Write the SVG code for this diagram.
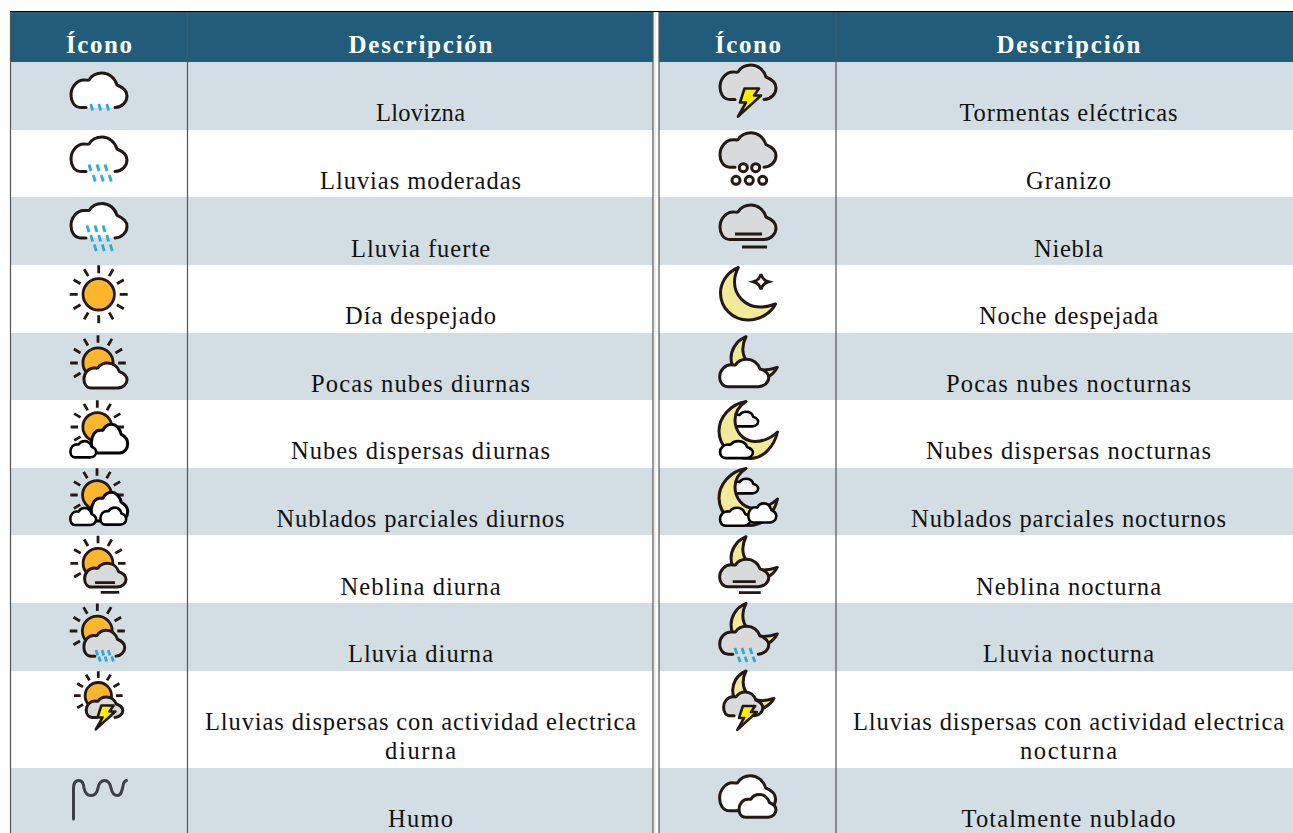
<svg xmlns="http://www.w3.org/2000/svg" xmlns:xlink="http://www.w3.org/1999/xlink" width="1293" height="833" viewBox="0 0 1293 833">
<style>
text{font-family:"Liberation Serif","Times New Roman",serif;font-size:24.5px;fill:#111;text-anchor:middle}
.h{font-weight:bold;fill:#fff;font-size:25px}
.band{fill:#d2dde4}
.hd{fill:#215d7b}
.rule{stroke:#555;stroke-width:1.2;fill:none}
.ns{vector-effect:non-scaling-stroke}
.cl{stroke:#231815;stroke-width:3;stroke-linecap:round;stroke-linejoin:round}
.blk{stroke:#000}
.thin{stroke-width:2.6}
.w{fill:#fff}
.g{fill:#d9dadb}
.lt{fill:#f5f5f5}
.m{fill:#f3ea97;stroke:#231815;stroke-width:3;stroke-linejoin:round}
.s{fill:#fbb62c;stroke:#231815;stroke-width:2.8}
.rain{stroke:#29abe2;stroke-width:2.8;fill:none}
.fog{stroke:#231815;stroke-width:2.8;fill:none}
.bolt{fill:#ffed00;stroke:#231815;stroke-width:2.6;stroke-linejoin:round}
.hail{fill:#fff;stroke:#231815;stroke-width:3}
</style>
<defs>
<path id="co" class="ns" d="M-13 17.5H-18C-25 17.5 -28 11 -28 5C-28 -3 -22 -10 -15 -10C-13 -10 -11 -9.5 -10 -10C-7 -15 -2 -17 3 -17C10 -17 16 -12 18 -5C23 -3 28 1 28 6C28 12 23 17 16 17.5"/>
<path id="cc" class="ns" d="M-13 17.5H-18C-25 17.5 -28 11 -28 5C-28 -3 -22 -10 -15 -10C-13 -10 -11 -9.5 -10 -10C-7 -15 -2 -17 3 -17C10 -17 16 -12 18 -5C23 -3 28 1 28 6C28 12 23 17 16 17.5Z"/>
<g id="sun">
<path class="ns" fill="none" d="M21 0H29M18.2 -10.5L25.1 -14.5M10.5 -18.2L14.5 -25.1M0 -21V-29M-10.5 -18.2L-14.5 -25.1M-18.2 -10.5L-25.1 -14.5M-21 0H-29M-18.2 10.5L-25.1 14.5"/>
<circle class="ns" r="15.7"/>
</g>
<path id="rx" class="ns" fill="none" d="M18.2 10.5L25.1 14.5M10.5 18.2L14.5 25.1M0 21V29M-10.5 18.2L-14.5 25.1"/>
<path id="moon" class="ns" d="M0 0C-13.3 5.5 -17.8 17.5 -17.8 25.5C-17.8 40.5 -5.3 52.5 9.7 52.5C21.7 52.5 32.7 45.5 37.2 36.5C31.7 38.5 26.7 39.5 21.7 39.5C6.7 39.5 -3.8 27.5 -3.8 14.5C-3.8 8.5 -2.3 4.5 0 0Z"/>
<path id="moon2" class="ns" d="M0 0C-16 2.5 -27 16.5 -27 29.5C-27 45.5 -13 57 4 57C17 57 28 45.5 31.5 30.5C24 37.5 16 40 9 40C-4 40 -11 28.5 -11 18.5C-11 10.5 -7 4.5 0 0Z"/>
<path id="bolt" class="ns" d="M-5.5 -13.5H9L4 -6.5H11L-12 14.5L-4 .5H-10Z"/>
<path id="r3" d="M0 0L2 6.5M8 0L10 6.5M16 0L18 6.5"/>
</defs>

<g id="table">
<rect class="hd" x="11" y="12" width="642" height="50"/>
<rect class="hd" x="659" y="12" width="634" height="50"/>
<rect class="band" x="11" y="62" width="642" height="68"/><rect class="band" x="659" y="62" width="634" height="68"/>
<rect class="band" x="11" y="197" width="642" height="68"/><rect class="band" x="659" y="197" width="634" height="68"/>
<rect class="band" x="11" y="333" width="642" height="67"/><rect class="band" x="659" y="333" width="634" height="67"/>
<rect class="band" x="11" y="468" width="642" height="67"/><rect class="band" x="659" y="468" width="634" height="67"/>
<rect class="band" x="11" y="603" width="642" height="68"/><rect class="band" x="659" y="603" width="634" height="68"/>
<rect class="band" x="11" y="768" width="642" height="65"/><rect class="band" x="659" y="768" width="634" height="65"/>
<path class="rule" d="M10.5 11.5V833M187.5 11.5V833M653 11.5V833M659 11.5V833M836 11.5V833"/>
<path d="M10 11.5H1293" stroke="#000" stroke-width="1.2" fill="none"/>
<path d="M655 12V833" stroke="#ddd" stroke-width="1" fill="none"/>
</g>

<g id="headers">
<text class="h" x="99" y="53" textLength="66">Ícono</text>
<text class="h" x="420.5" y="53" textLength="144">Descripción</text>
<text class="h" x="748" y="53" textLength="66">Ícono</text>
<text class="h" x="1068.5" y="53" textLength="144">Descripción</text>
</g>

<g id="labels-left">
<text x="420.5" y="121" textLength="89">Llovizna</text>
<text x="420.5" y="189" textLength="201">Lluvias moderadas</text>
<text x="420.5" y="257" textLength="139">Lluvia fuerte</text>
<text x="420.5" y="324" textLength="151">Día despejado</text>
<text x="420.5" y="392" textLength="219">Pocas nubes diurnas</text>
<text x="420.5" y="459" textLength="259">Nubes dispersas diurnas</text>
<text x="420.5" y="527" textLength="288">Nublados parciales diurnos</text>
<text x="420.5" y="595" textLength="160">Neblina diurna</text>
<text x="420.5" y="662" textLength="145">Lluvia diurna</text>
<text x="420.5" y="730" textLength="431">Lluvias dispersas con actividad electrica</text>
<text x="420.5" y="759" textLength="71">diurna</text>
<text x="420.5" y="827" textLength="65">Humo</text>
</g>
<g id="labels-right">
<text x="1068.5" y="121" textLength="218">Tormentas eléctricas</text>
<text x="1068.5" y="189" textLength="85">Granizo</text>
<text x="1068.5" y="257" textLength="69">Niebla</text>
<text x="1068.5" y="324" textLength="179">Noche despejada</text>
<text x="1068.5" y="392" textLength="245">Pocas nubes nocturnas</text>
<text x="1068.5" y="459" textLength="285">Nubes dispersas nocturnas</text>
<text x="1068.5" y="527" textLength="315">Nublados parciales nocturnos</text>
<text x="1068.5" y="595" textLength="185">Neblina nocturna</text>
<text x="1068.5" y="662" textLength="171">Lluvia nocturna</text>
<text x="1068.5" y="730" textLength="431">Lluvias dispersas con actividad electrica</text>
<text x="1068.5" y="759" textLength="97">nocturna</text>
<text x="1068.5" y="827" textLength="214">Totalmente nublado</text>
</g>

<g id="icon-llovizna">
<use href="#co" class="cl w" x="99" y="90"/>
<use href="#r3" class="rain" transform="translate(90.7,104)"/>
</g>
<g id="icon-lluvias-moderadas">
<use href="#co" class="cl w" x="99" y="154"/>
<use href="#r3" class="rain" transform="translate(89,164.5)"/>
<use href="#r3" class="rain" transform="translate(93.3,175)"/>
</g>
<g id="icon-lluvia-fuerte">
<use href="#co" class="cl w" x="99" y="220.4"/>
<use href="#r3" class="rain" transform="translate(87,225.5)"/>
<use href="#r3" class="rain" transform="translate(90.7,235)"/>
<use href="#r3" class="rain" transform="translate(94.3,244.5)"/>
</g>
<g id="icon-dia-despejado">
<use href="#sun" class="s" transform="translate(98.7,294.3)"/>
<use href="#rx" class="s" transform="translate(98.7,294.3)"/>
</g>
<g id="icon-pocas-nubes-diurnas">
<use href="#sun" class="s" transform="translate(98,363) scale(.96)"/>
<use href="#cc" class="cl w" transform="translate(105.5,375.3) scale(.77,.73)"/>
</g>
<g id="icon-nubes-dispersas-diurnas">
<use href="#sun" class="s blk" transform="translate(97.3,427) scale(.92)"/>
<use href="#cc" class="cl w blk" transform="translate(109.5,438.5) scale(.65,.835)"/>
<use href="#cc" class="cl w blk thin" transform="translate(83.3,449.1) scale(.46,.47)"/>
</g>
<g id="icon-nublados-parciales-diurnos">
<use href="#sun" class="s blk" transform="translate(97,495) scale(.92)"/>
<use href="#cc" class="cl w blk" transform="translate(109.5,506.5) scale(.65,.835)"/>
<use href="#cc" class="cl w blk thin" transform="translate(83.2,516.4) scale(.46,.49)"/>
<use href="#cc" class="cl w blk thin" transform="translate(113.3,516) scale(.46,.49)"/>
</g>
<g id="icon-neblina-diurna">
<use href="#sun" class="s" transform="translate(98,563.3) scale(.95)"/>
<use href="#cc" class="cl g" transform="translate(105.3,575) scale(.74,.69)"/>
<path class="fog" d="M95 582.7H115M100.7 592.3H119.3"/>
</g>
<g id="icon-lluvia-diurna">
<use href="#sun" class="s" transform="translate(97.3,631) scale(.95)"/>
<use href="#co" class="cl g" transform="translate(104.3,643) scale(.73,.75)"/>
<path class="rain" d="M96 650L97.7 655.5M102 650L103.7 655.5M108.3 650L110 655.5M98.7 656.5L100.4 661.5M105 656.5L106.7 661.5M111.7 656.5L113.4 661.5"/>
</g>
<g id="icon-lluvias-dispersas-diurna">
<use href="#sun" class="s" transform="translate(98.3,695.7) scale(.84)"/>
<use href="#co" class="cl g" transform="translate(104.5,707) scale(.654,.594)"/>
<use href="#bolt" class="bolt" transform="translate(106,717) scale(.85)"/>
</g>
<g id="icon-humo">
<path d="M73.5 819V788C73.5 782 76 780.5 79 780.5C82.5 780.5 83.5 783 84 788C85 793 87 795.5 91 795.5C95 795.5 97 793 98 788C99 783 101 780.5 104.5 780.5C108 780.5 110 783 111 788C112 793 114 795.5 117.5 795.5C121 795.5 122 791 123 786C123.5 782.5 124.5 781 126.5 780.5" fill="none" stroke="#3a3f44" stroke-width="3" stroke-linecap="round"/>
</g>

<g id="icon-tormentas">
<use href="#co" class="cl g" x="748" y="82"/>
<use href="#bolt" class="bolt" x="750" y="102"/>
</g>
<g id="icon-granizo">
<use href="#co" class="cl g" x="748" y="149.7"/>
<circle class="hail" cx="743.3" cy="167.7" r="4"/><circle class="hail" cx="755.7" cy="167.7" r="4"/>
<circle class="hail" cx="736" cy="180.3" r="4"/><circle class="hail" cx="749.3" cy="180.3" r="4"/><circle class="hail" cx="762.7" cy="180.3" r="4"/>
</g>
<g id="icon-niebla">
<use href="#cc" class="cl g" x="748" y="222"/>
<path class="fog" d="M735 234H762M742 247H767"/>
</g>
<g id="icon-noche-despejada">
<use href="#moon" class="m" x="738.3" y="267.5"/>
<path class="hail" d="M761 274Q762.5 280 768.5 281.7Q762.5 283.5 761 289.5Q759.5 283.5 753.5 281.7Q759.5 280 761 274Z"/>
</g>
<g id="icon-pocas-nubes-nocturnas">
<use href="#moon" class="m" transform="translate(746,336.7) scale(.84)"/>
<use href="#cc" class="cl w" transform="translate(744.2,372.8) scale(.877,.797)"/>
</g>
<g id="icon-nubes-dispersas-nocturnas">
<use href="#cc" class="cl lt blk thin" transform="translate(744.6,419) scale(.484,.423)"/>
<use href="#moon2" class="m blk" x="746" y="401.5"/>
<use href="#cc" class="cl w blk thin" transform="translate(736.5,449.5) scale(.586,.494)"/>
</g>
<g id="icon-nublados-parciales-nocturnos">
<use href="#cc" class="cl lt blk thin" transform="translate(744.6,486) scale(.484,.423)"/>
<use href="#moon2" class="m blk" x="746" y="468.5"/>
<use href="#cc" class="cl w blk thin" transform="translate(735.3,516.6) scale(.545,.52)"/>
<use href="#cc" class="cl w blk thin" transform="translate(762.3,512.8) scale(.5,.553)"/>
</g>
<g id="icon-neblina-nocturna">
<use href="#moon" class="m" transform="translate(746,536.7) scale(.84)"/>
<use href="#cc" class="cl g" transform="translate(744.2,572.8) scale(.877,.797)"/>
<path class="fog" d="M732.7 581.7H755.7M739 592.7H760.7"/>
</g>
<g id="icon-lluvia-nocturna">
<use href="#moon" class="m" transform="translate(746,603.3) scale(.84)"/>
<use href="#co" class="cl g" transform="translate(744.2,640) scale(.877,.81)"/>
<path class="rain" d="M735 648L737 654M742 648L744 654M750 648L752 654M738.3 656.7L740.3 662M745 656.7L747 662M753 656.7L755 662"/>
</g>
<g id="icon-lluvias-dispersas-nocturna">
<use href="#moon" class="m" transform="translate(746,671) scale(.75)"/>
<use href="#co" class="cl g" transform="translate(743.2,703.7) scale(.7,.694)"/>
<use href="#bolt" class="bolt" transform="translate(747.5,717.5) scale(.85)"/>
</g>
<g id="icon-totalmente-nublado">
<use href="#cc" class="cl w" transform="translate(747.6,793) scale(1,1.02)"/>
<use href="#cc" class="cl w" transform="translate(757.5,805.8) scale(.66,.66)"/>
</g>
</svg>
